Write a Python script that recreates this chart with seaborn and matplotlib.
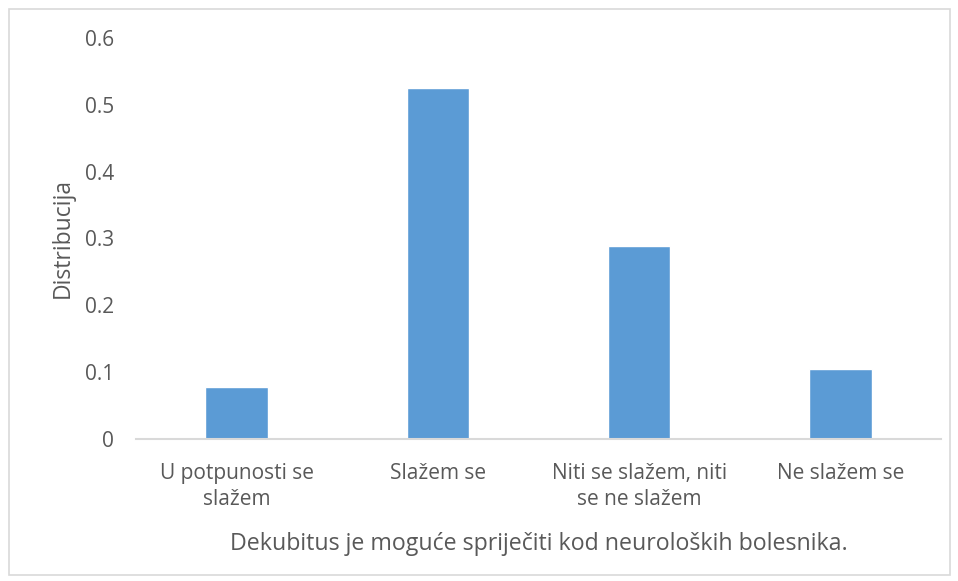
import matplotlib
matplotlib.use("Agg")
import matplotlib.pyplot as plt
import seaborn as sns
import pandas as pd
from matplotlib.patches import Rectangle

categories = ["U potpunosti se\nslažem", "Slažem se", "Niti se slažem, niti\nse ne slažem", "Ne slažem se"]
values = [0.078, 0.525, 0.289, 0.105]
y_ticks = [0, 0.1, 0.2, 0.3, 0.4, 0.5, 0.6]
y_tick_labels = ["0", "0.1", "0.2", "0.3", "0.4", "0.5", "0.6"]

TEXT = "#595959"
BAR = "#5b9bd5"

sns.set_style("white")
plt.rcParams["font.family"] = ["Open Sans", "DejaVu Sans"]

df = pd.DataFrame({"cat": categories, "val": values})

fig = plt.figure(figsize=(9.58, 5.81), dpi=100)
ax = fig.add_axes([136 / 958, 1 - 439 / 581, (941 - 136) / 958, (439 - 38) / 581])
sns.barplot(data=df, x="cat", y="val", color=BAR, width=0.31, saturation=1, ax=ax)

ax.set_ylim(0, 0.6)
ax.set_xlim(-0.5, 3.5)
ax.set_yticks(y_ticks)
ax.set_yticklabels(y_tick_labels)
ax.tick_params(axis="both", length=0, labelcolor=TEXT)
ax.tick_params(axis="y", pad=16, labelsize=15)
ax.tick_params(axis="x", pad=17, labelsize=15)
for lbl in ax.get_xticklabels():
    lbl.set_linespacing(1.35)
for side in ["top", "right", "left"]:
    ax.spines[side].set_visible(False)
ax.spines["bottom"].set_color("#d9d9d9")
ax.spines["bottom"].set_linewidth(1.5)

ax.set_ylabel("Distribucija", color=TEXT, fontsize=16.5, labelpad=7)
ax.set_xlabel("Dekubitus je moguće spriječiti kod neuroloških bolesnika.", color=TEXT, fontsize=16.7, labelpad=16)

fig.patches.append(Rectangle((9 / 958, 6 / 581), 941 / 958, 566 / 581, transform=fig.transFigure,
                             fill=False, edgecolor="#d9d9d9", linewidth=1.2))

fig.savefig("out.png", dpi=100, facecolor="white")
